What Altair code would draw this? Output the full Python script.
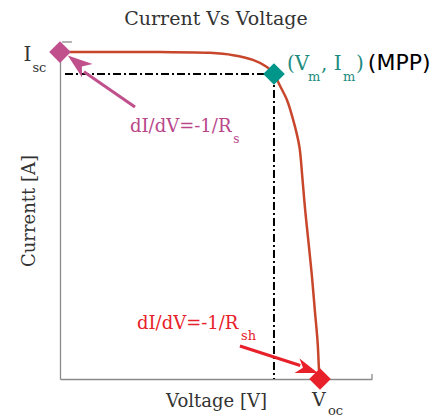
import altair as alt
import pandas as pd

# I-V curve (arbitrary units: V 0..6, I 0..10)
curve_v = [0, 0.96, 1.92, 2.88, 3.33, 3.71, 3.98, 4.115, 4.23, 4.365, 4.52, 4.605,
           4.66, 4.715, 4.78, 4.846, 4.90, 4.955, 4.985, 5.0]
curve_i = [9.70, 9.70, 9.70, 9.68, 9.61, 9.47, 9.26, 9.05, 8.70, 8.28, 7.48, 6.88,
           5.99, 5.01, 4.04, 3.03, 2.05, 1.07, 0.18, 0]

# key points: Isc, MPP, Voc
pt_names = ["Isc", "MPP", "Voc"]
pt_v = [0, 4.115, 5.0]
pt_i = [9.70, 9.05, 0]
pt_colors = ["#C0508C", "#00968A", "#E8202A"]

# dash-dot guide lines from MPP
guide_v = [0.096, 4.115]
guide_v2 = [4.115, 4.115]
guide_i = [9.05, 9.05]
guide_i2 = [9.05, 0]

# arrows: start, shaft end, tip, angle
arrow_names = ["Rs", "Rsh"]
arrow_v0 = [1.442, 3.46]
arrow_i0 = [8.07, 0.98]
arrow_v1 = [0.46, 4.62]
arrow_i1 = [9.12, 0.40]
arrow_tip_v = [0.15, 4.96]
arrow_tip_i = [9.60, 0.18]
arrow_angle = [308, 109]
arrow_colors = ["#C0508C", "#E8202A"]
arrow_head = [960, 760]

SERIF = "DejaVu Serif"
SANS = "DejaVu Sans"

xs = alt.Scale(domain=[0, 6])
ys = alt.Scale(domain=[0, 10])

xaxis = alt.Axis(title="Voltage [V]", ticks=False, labels=False, grid=False,
                 domainColor="#8a8a8a", domainWidth=1.3, titleFont=SERIF, titleFontSize=18,
                 titleFontWeight="normal", titleColor="#333333", titlePadding=13)
yaxis = alt.Axis(title="Currentt [A]", ticks=False, labels=False, grid=False,
                 domainColor="#8a8a8a", domainWidth=1.3, titleFont=SERIF, titleFontSize=18,
                 titleFontWeight="normal", titleColor="#333333", titlePadding=22)


def X():
    return alt.X("V:Q", scale=xs, axis=xaxis)


def Y():
    return alt.Y("I:Q", scale=ys, axis=yaxis)


curve_df = pd.DataFrame({"V": curve_v, "I": curve_i, "k": list(range(len(curve_v)))})
curve = alt.Chart(curve_df).mark_line(color="#C8462C", strokeWidth=2.5, interpolate="catmull-rom").encode(
    x=X(), y=Y(), order="k:Q",
)

guide_df = pd.DataFrame({"V": guide_v, "V2": guide_v2, "I": guide_i, "I2": guide_i2})
guides = alt.Chart(guide_df).mark_rule(color="black", strokeWidth=2, strokeDash=[8, 3, 2, 3]).encode(
    x=X(), x2="V2:Q", y=Y(), y2="I2:Q",
)

tick_df = pd.DataFrame({"V": [0.04, 6.0], "V2": [0.23, 6.0], "I": [10, 0], "I2": [10, 0.15]})
ticks = alt.Chart(tick_df).mark_rule(color="#8a8a8a", strokeWidth=1.3).encode(
    x=X(), x2="V2:Q", y=Y(), y2="I2:Q",
)

arrow_df = pd.DataFrame({"name": arrow_names, "V": arrow_v0, "I": arrow_i0,
                         "V2": arrow_v1, "I2": arrow_i1})
shafts = alt.Chart(arrow_df).mark_rule(strokeWidth=3).encode(
    x=X(), x2="V2:Q", y=Y(), y2="I2:Q",
    color=alt.Color("name:N", scale=alt.Scale(domain=arrow_names, range=arrow_colors), legend=None),
)

head_df = pd.DataFrame({"name": arrow_names, "V": arrow_tip_v, "I": arrow_tip_i,
                        "ang": arrow_angle, "sz": arrow_head})
heads = alt.Chart(head_df).mark_point(
    shape="M0,0L-0.55,1.6L0,1.15L0.55,1.6Z", filled=True, opacity=1, strokeWidth=0
).encode(
    x=X(), y=Y(),
    angle=alt.Angle("ang:Q", scale=None),
    size=alt.Size("sz:Q", scale=None, legend=None),
    color=alt.Color("name:N", scale=alt.Scale(domain=arrow_names, range=arrow_colors), legend=None),
)

pt_df = pd.DataFrame({"name": pt_names, "V": pt_v, "I": pt_i})
points = alt.Chart(pt_df).mark_point(shape="diamond", filled=True, opacity=1, size=470).encode(
    x=X(), y=Y(),
    color=alt.Color("name:N", scale=alt.Scale(domain=pt_names, range=pt_colors), legend=None),
)

# text labels (main text + subscripts)
lbl_text = ["I", "sc", "(V", "m", ", I", "m", ")", "dI/dV=-1/R", "s", "dI/dV=-1/R", "sh", "V", "oc"]
lbl_v = [-0.70, -0.53, 4.365, 4.77, 5.02, 5.44, 5.69, 1.346, 3.33, 1.48, 3.48, 4.846, 5.154]
lbl_i = [9.62, 9.23, 9.35, 8.96, 9.35, 8.96, 9.35, 7.48, 7.12, 1.63, 1.276, -0.623, -0.95]
lbl_size = [20, 13, 20, 13, 20, 13, 20, 18, 12, 18, 13, 19, 13]
lbl_color = ["#333333", "#333333", "#1E8C80", "#1E8C80", "#1E8C80", "#1E8C80", "#1E8C80",
             "#B9478A", "#B9478A", "#E8202A", "#E8202A", "#333333", "#333333"]

lbl_df = pd.DataFrame({"t": lbl_text, "V": lbl_v, "I": lbl_i, "s": lbl_size, "c": lbl_color})
labels = alt.Chart(lbl_df).mark_text(font=SERIF, align="left", baseline="middle").encode(
    x=X(), y=Y(),
    text="t:N",
    size=alt.Size("s:Q", scale=None, legend=None),
    color=alt.Color("c:N", scale=None),
)

mpp_df = pd.DataFrame({"t": ["(MPP)"], "V": [5.92], "I": [9.38]})
mpp = alt.Chart(mpp_df).mark_text(font=SANS, fontSize=22, align="left", baseline="middle",
                                  color="black").encode(
    x=X(), y=Y(), text="t:N",
)

chart = alt.layer(curve, guides, ticks, shafts, heads, points, labels, mpp).properties(
    width=312, height=337,
    autosize=alt.AutoSizeParams(type="none"),
    padding={"left": 52, "top": 34, "right": 65, "bottom": 42},
    title=alt.TitleParams("Current Vs Voltage", font=SERIF, fontSize=19, fontWeight="normal",
                          color="#333333", offset=12),
).configure_view(strokeWidth=0).resolve_scale(color="independent", size="independent")

chart.save("out.html", embed_options={"renderer": "svg", "actions": False})
